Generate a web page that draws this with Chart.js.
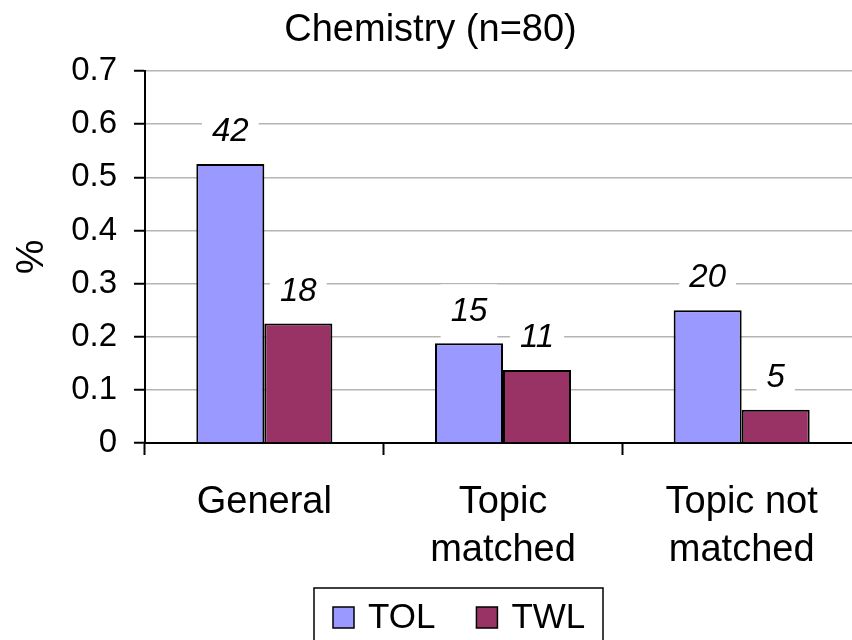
<!DOCTYPE html>
<html>
<head>
<meta charset="utf-8">
<title>Chemistry (n=80)</title>
<script src="https://cdn.jsdelivr.net/npm/chart.js@4.4.1/dist/chart.umd.min.js"></script>
<style>
  html, body { margin: 0; padding: 0; overflow: hidden; background: #ffffff; }
  #wrap { width: 862px; height: 640px; }
  canvas { display: block; }
</style>
</head>
<body>
<div id="wrap"><canvas id="chart" width="862" height="640"></canvas></div>
<script>
// Survey size and response counts per category
const totalN = 80;
const categories = [['General'], ['Topic', 'matched'], ['Topic not', 'matched']];
const seriesNames = ['TOL', 'TWL'];
const tolCounts = [42, 15, 20];
const twlCounts = [18, 11, 5];
const yTickLabels = ['0', '0.1', '0.2', '0.3', '0.4', '0.5', '0.6', '0.7'];
const seriesColors = ['#9999FF', '#993366'];

const countsBySeries = [tolCounts, twlCounts];
const FONT = '"Liberation Sans", Arial, Helvetica, sans-serif';
Chart.defaults.font.family = FONT;
Chart.defaults.color = '#000000';

// Count labels above each bar, on a white patch that hides the gridline behind
const valueLabels = {
  id: 'valueLabels',
  afterDatasetsDraw(chart) {
    const ctx = chart.ctx;
    ctx.save();
    ctx.font = 'italic 33px ' + FONT;
    ctx.textAlign = 'center';
    ctx.textBaseline = 'middle';
    chart.data.datasets.forEach((ds, i) => {
      chart.getDatasetMeta(i).data.forEach((bar, j) => {
        const txt = String(countsBySeries[i][j]);
        const w = ctx.measureText(txt).width + 20;
        const cy = bar.y - 32;
        ctx.fillStyle = '#ffffff';
        ctx.fillRect(bar.x - w / 2, cy - 27, w, 54);
        ctx.fillStyle = '#000000';
        ctx.fillText(txt, bar.x, cy);
      });
    });
    ctx.restore();
  }
};

// Boxed legend under the category labels
const boxedLegend = {
  id: 'boxedLegend',
  afterDraw(chart) {
    const ctx = chart.ctx;
    ctx.save();
    ctx.lineWidth = 1.5;
    ctx.strokeStyle = '#000000';
    ctx.strokeRect(314, 588, 289, 70);
    ctx.font = '35px ' + FONT;
    ctx.textAlign = 'left';
    ctx.textBaseline = 'middle';
    let x = 333;
    chart.data.datasets.forEach((ds) => {
      ctx.fillStyle = ds.backgroundColor;
      ctx.fillRect(x, 607, 21, 21);
      ctx.strokeRect(x, 607, 21, 21);
      ctx.fillStyle = '#000000';
      ctx.fillText(ds.label, x + 35, 618);
      x += 35 + ctx.measureText(ds.label).width + 41;
    });
    ctx.restore();
  }
};

new Chart(document.getElementById('chart'), {
  type: 'bar',
  data: {
    labels: categories,
    datasets: seriesNames.map((name, i) => ({
      label: name,
      data: countsBySeries[i].map(c => c / totalN),
      backgroundColor: seriesColors[i],
      borderColor: '#000000',
      borderWidth: 2,
      categoryPercentage: 0.57,
      barPercentage: 1.0
    }))
  },
  options: {
    responsive: false,
    animation: false,
    layout: { padding: { top: 0, left: 0, right: 1, bottom: 0 } },
    plugins: {
      legend: { display: false },
      tooltip: { enabled: false },
      title: {
        display: true,
        text: 'Chemistry (n=80)',
        color: '#000000',
        font: { size: 38, weight: 'normal', lineHeight: 1.2 },
        padding: { top: 8, bottom: 17.4 }
      }
    },
    scales: {
      x: {
        afterFit(scale) { scale.height = 197; },
        grid: {
          offset: true,
          drawOnChartArea: false,
          drawTicks: true,
          tickLength: 12,
          tickColor: '#000000',
          tickWidth: 2
        },
        border: { display: true, color: '#000000', width: 2 },
        ticks: {
          font: { size: 38, lineHeight: 1.27 },
          color: '#000000',
          padding: 23,
          maxRotation: 0,
          autoSkip: false
        }
      },
      y: {
        min: 0,
        max: 0.7,
        afterFit(scale) { scale.width = 145; },
        grid: {
          color: '#b4b4b4',
          lineWidth: 1.5,
          drawTicks: true,
          tickLength: 11,
          tickColor: '#000000',
          tickWidth: 2
        },
        border: { display: true, color: '#000000', width: 2 },
        ticks: {
          stepSize: 0.1,
          padding: 17,
          font: { size: 33 },
          color: '#000000',
          callback: (v, idx) => yTickLabels[idx]
        },
        title: {
          display: true,
          text: '%',
          color: '#000000',
          font: { size: 39, lineHeight: 1.2 },
          padding: { top: 9, bottom: 0 }
        }
      }
    }
  },
  plugins: [valueLabels, boxedLegend]
});
</script>
</body>
</html>
